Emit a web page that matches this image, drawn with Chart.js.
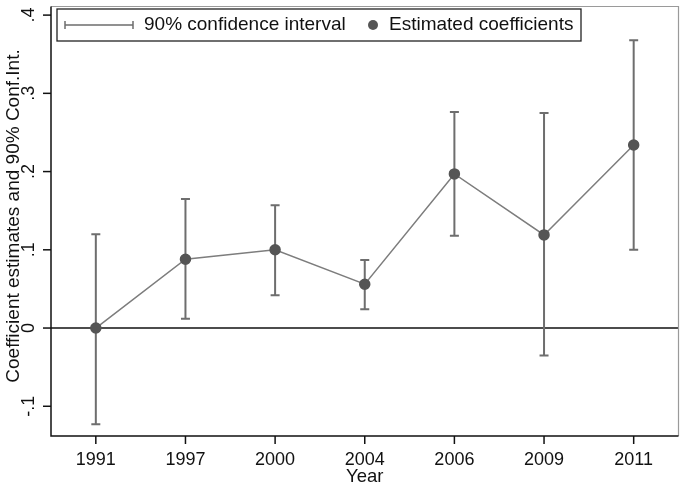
<!DOCTYPE html>
<html>
<head>
    <title>Coefficient estimates</title>
    <script src="https://cdn.jsdelivr.net/npm/chart.js"></script>
    <style>
        body { margin: 0; background: #fff; }
    </style>
</head>
<body>
    <canvas id="coef-chart" width="685" height="485"></canvas>

    <script>
        const years = ['1991', '1997', '2000', '2004', '2006', '2009', '2011'];
        const estimates = [0.000, 0.088, 0.100, 0.056, 0.197, 0.119, 0.234];
        const ciLower = [-0.123, 0.012, 0.042, 0.024, 0.118, -0.035, 0.100];
        const ciUpper = [0.120, 0.165, 0.157, 0.087, 0.276, 0.275, 0.368];
        const yTicks = [-0.1, 0, 0.1, 0.2, 0.3, 0.4];
        const yTickLabels = ['-.1', '0', '.1', '.2', '.3', '.4'];

        const FAMILY = '"Liberation Sans", Arial, sans-serif';

        // error bars, box, axes, legend - all drawn with the chart's scales
        const stataPlugin = {
            id: 'stata',
            beforeDatasetsDraw(chart) {
                const { ctx, chartArea, scales } = chart;
                const x = scales.x, y = scales.y;

                // zero line
                ctx.save();
                ctx.strokeStyle = '#111';
                ctx.lineWidth = 1.5;
                ctx.beginPath();
                ctx.moveTo(chartArea.left, y.getPixelForValue(0));
                ctx.lineTo(chartArea.right, y.getPixelForValue(0));
                ctx.stroke();

                // confidence intervals
                ctx.strokeStyle = '#6e6e6e';
                ctx.lineWidth = 2;
                years.forEach((yr, i) => {
                    const px = x.getPixelForValue(i);
                    const top = y.getPixelForValue(ciUpper[i]);
                    const bot = y.getPixelForValue(ciLower[i]);
                    ctx.beginPath();
                    ctx.moveTo(px, top);
                    ctx.lineTo(px, bot);
                    ctx.moveTo(px - 4.5, top);
                    ctx.lineTo(px + 4.5, top);
                    ctx.moveTo(px - 4.5, bot);
                    ctx.lineTo(px + 4.5, bot);
                    ctx.stroke();
                });
                ctx.restore();
            },
            afterDraw(chart) {
                const { ctx, chartArea, scales } = chart;
                const x = scales.x, y = scales.y;
                ctx.save();

                // top / right frame (light)
                ctx.strokeStyle = '#9a9a9a';
                ctx.lineWidth = 1.2;
                ctx.beginPath();
                ctx.moveTo(chartArea.left, chartArea.top);
                ctx.lineTo(chartArea.right, chartArea.top);
                ctx.lineTo(chartArea.right, chartArea.bottom);
                ctx.stroke();

                // axes
                ctx.strokeStyle = '#111';
                ctx.lineWidth = 1.5;
                ctx.beginPath();
                ctx.moveTo(chartArea.left, chartArea.top);
                ctx.lineTo(chartArea.left, chartArea.bottom);
                ctx.lineTo(chartArea.right, chartArea.bottom);
                ctx.stroke();

                // y ticks + rotated labels
                ctx.fillStyle = '#111';
                ctx.font = '18px ' + FAMILY;
                yTicks.forEach((v, i) => {
                    const py = y.getPixelForValue(v);
                    ctx.beginPath();
                    ctx.moveTo(chartArea.left - 8, py);
                    ctx.lineTo(chartArea.left, py);
                    ctx.stroke();
                    ctx.save();
                    ctx.translate(chartArea.left - 13, py);
                    ctx.rotate(-Math.PI / 2);
                    ctx.textAlign = 'center';
                    ctx.textBaseline = 'bottom';
                    ctx.fillText(yTickLabels[i], 0, 0);
                    ctx.restore();
                });

                // x ticks + labels
                years.forEach((yr, i) => {
                    const px = x.getPixelForValue(i);
                    ctx.beginPath();
                    ctx.moveTo(px, chartArea.bottom);
                    ctx.lineTo(px, chartArea.bottom + 8);
                    ctx.stroke();
                    ctx.textAlign = 'center';
                    ctx.textBaseline = 'top';
                    ctx.fillText(yr, px, chartArea.bottom + 15);
                });

                // axis titles
                ctx.font = '18.5px ' + FAMILY;
                ctx.textAlign = 'center';
                ctx.textBaseline = 'top';
                ctx.fillText('Year', x.getPixelForValue(3), chartArea.bottom + 32);
                ctx.save();
                ctx.font = '19px ' + FAMILY;
                ctx.translate(4, 216);
                ctx.rotate(-Math.PI / 2);
                ctx.textBaseline = 'top';
                ctx.fillText('Coefficient estimates and 90% Conf.Int.', 0, 0);
                ctx.restore();

                // legend
                ctx.fillStyle = '#fff';
                ctx.fillRect(57, 9, 524, 32);
                ctx.strokeStyle = '#222';
                ctx.lineWidth = 1.3;
                ctx.strokeRect(57, 9, 524, 32);
                ctx.strokeStyle = '#6e6e6e';
                ctx.lineWidth = 1.5;
                ctx.beginPath();
                ctx.moveTo(65, 25); ctx.lineTo(133, 25);
                ctx.moveTo(65, 21); ctx.lineTo(65, 29);
                ctx.moveTo(133, 21); ctx.lineTo(133, 29);
                ctx.stroke();
                ctx.fillStyle = '#555';
                ctx.beginPath();
                ctx.arc(373, 25, 5, 0, Math.PI * 2);
                ctx.fill();
                ctx.fillStyle = '#111';
                ctx.font = '19px ' + FAMILY;
                ctx.textAlign = 'left';
                ctx.textBaseline = 'middle';
                ctx.fillText('90% confidence interval', 144, 25);
                ctx.fillText('Estimated coefficients', 389, 25);

                ctx.restore();
            }
        };

        const ctx = document.getElementById('coef-chart').getContext('2d');
        const coefChart = new Chart(ctx, {
            type: 'line',
            data: {
                labels: years,
                datasets: [{
                    label: 'Estimated coefficients',
                    data: estimates,
                    borderColor: '#7d7d7d',
                    borderWidth: 1.5,
                    pointBackgroundColor: '#555',
                    pointBorderColor: '#555',
                    pointRadius: 5,
                    tension: 0,
                    fill: false
                }]
            },
            options: {
                responsive: false,
                animation: false,
                layout: {
                    padding: { left: 51, right: 3, top: 3, bottom: 49 }
                },
                scales: {
                    x: {
                        display: false,
                        offset: true
                    },
                    y: {
                        display: false,
                        min: -0.138,
                        max: 0.411
                    }
                },
                plugins: {
                    legend: { display: false },
                    tooltip: { enabled: false }
                }
            },
            plugins: [stataPlugin]
        });
    </script>
</body>
</html>
